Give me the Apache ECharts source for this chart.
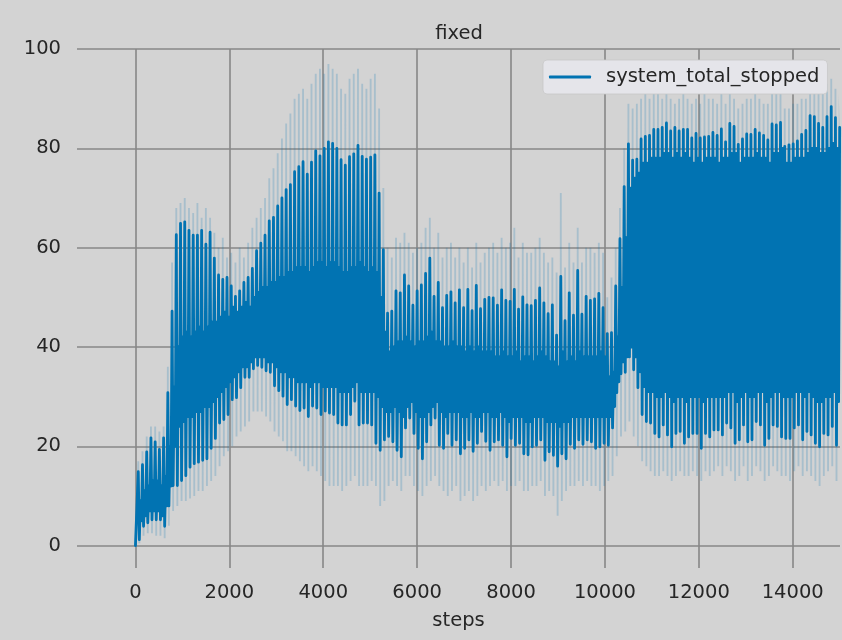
<!DOCTYPE html>
<html>
<head>
<meta charset="utf-8">
<script src="https://cdn.jsdelivr.net/npm/echarts@6/dist/echarts.min.js"></script>
<style>
html,body{margin:0;padding:0;background:#d3d3d3;}
#chart{width:842px;height:640px;}
</style>
</head>
<body>
<div id="chart"></div>
<script>
// ---- data (one value per signal cycle) ----
const seriesName = 'system_total_stopped';
const titleText = 'fixed';
const xAxisName = 'steps';
const xTicks = [0, 2000, 4000, 6000, 8000, 10000, 12000, 14000];
const yTicks = [0, 20, 40, 60, 80, 100];
const startStep = 0;
const startValue = 0;
const firstPeakStep = 60;
const cycleSteps = 90;
const lastStep = 15000;

// main maximum of each cycle
const peaks = [
  14.9,16.3,18.9,21.7,20.9,19.4,21.7,30.8,47.2,62.6,64.9,65.2,63.5,62.5,62.5,63.5,60.7,63.1,57.9,54.5,53.6,54.0,52.3,50.2,51.3,53.0,54.0,
  55.8,59.4,60.9,62.5,65.4,66.1,68.4,70.0,71.7,72.7,75.3,76.3,77.3,74.8,77.2,79.5,78.5,80.0,81.3,81.0,80.0,77.7,76.6,78.3,78.9,80.6,78.4,77.8,
  78.2,78.7,71.0,59.6,46.8,47.2,51.3,50.9,54.5,52.3,48.4,51.3,52.5,54.8,57.9,50.2,53.0,47.9,50.4,51.1,48.9,51.5,47.9,51.6,47.3,52.4,47.7,49.6,
  50.0,49.9,48.4,51.5,49.4,49.2,51.6,47.6,50.1,48.5,48.3,49.4,51.9,48.9,46.7,48.5,42.4,54.2,45.3,50.9,46.4,55.4,46.6,50.2,49.4,49.7,50.8,47.9,
  42.7,42.9,52.3,61.8,72.3,80.9,77.6,77.8,81.9,82.4,82.6,83.8,83.8,84.2,85.1,83.5,84.2,83.5,83.8,83.8,82.1,83.0,82.1,82.3,82.4,83.2,82.6,83.9,
  81.3,85.0,84.4,80.8,81.9,82.9,82.8,83.8,83.1,82.6,81.7,84.9,84.7,85.2,80.4,80.7,80.9,81.5,82.8,83.6,86.6,86.4,85.0,84.2,86.4,88.4,86.2,84.2
];
// main minimum of each cycle
const troughs = [
  1.2,3.9,4.6,5.2,5.2,5.2,3.9,8.0,12.1,12.1,13.1,14.1,15.8,16.5,16.8,17.2,17.5,19.6,21.6,24.7,25.4,26.4,29.4,29.8,31.8,33.9,33.9,
  35.6,36.3,35.9,35.2,34.9,32.2,31.2,30.1,28.4,29.4,28.1,27.2,27.7,26.0,28.1,27.7,26.4,27.1,26.7,26.4,24.7,24.3,24.3,26.4,29.1,24.3,24.7,24.7,
  24.3,20.6,19.2,21.3,22.0,20.9,19.2,17.9,23.7,25.7,22.6,19.6,17.5,20.9,24.3,25.7,20.2,19.6,22.6,20.2,21.3,18.5,19.6,21.3,19.0,20.6,23.0,21.0,
  19.2,20.9,21.3,20.2,17.9,21.6,20.2,20.6,18.5,18.3,19.9,20.2,21.3,17.2,18.9,18.2,16.0,18.5,17.5,20.4,19.6,21.3,20.4,21.3,20.9,19.6,19.9,20.6,
  20.2,23.7,30.8,34.6,34.9,38.0,35.4,31.8,26.4,25.0,24.7,22.6,21.9,24.3,22.3,19.9,22.6,23.0,20.6,21.9,22.6,22.6,19.6,22.6,21.9,23.3,23.3,22.3,
  24.7,23.7,20.6,21.3,24.3,20.9,21.3,25.0,24.3,20.2,21.6,24.3,24.0,21.9,21.6,21.6,23.7,24.3,21.3,23.0,22.3,20.6,19.9,22.6,22.3,24.0,20.2,22.0
];
// secondary (second phase) maximum of each cycle
const humps = [
  9,11,12,13,13,12,14,20,32,40,42,43,42,43,44,43,44,45,45,46,47,46,48,47,48,49,48,
  50,51,52,52,53,53,54,54,55,55,56,56,56,55,56,57,57,56,57,57,56,55,55,56,56,57,56,55,
  56,55,50,43,39,40,41,41,42,41,40,41,41,42,43,41,41,40,40,41,40,40,39,40,39,40,39,39,
  39,38,38,39,38,38,39,37,38,38,37,38,39,38,37,37,36,39,37,38,37,39,38,38,38,38,39,38,
  34,35,42,52,62,72,74,75,77,77,78,78,78,79,79,78,79,78,79,78,77,78,77,78,78,78,77,78,
  78,79,79,77,78,78,78,79,78,78,77,79,79,80,77,77,78,78,78,79,80,80,79,79,80,81,80,79
];
// secondary minimum of each cycle
const dips = [
  5,6,7,7,7,6,8,12,20,24,25,26,26,27,27,28,28,29,30,31,32,33,34,35,36,36,37,
  38,38,38,37,37,36,35,35,34,34,33,33,33,32,33,33,32,32,32,32,31,31,31,32,33,31,31,31,
  31,30,28,27,27,28,27,26,28,29,27,26,26,27,28,29,27,26,27,27,27,26,26,27,26,26,27,27,
  26,26,27,26,25,26,26,26,25,25,26,26,26,25,25,25,24,25,25,26,26,26,26,26,26,26,26,26,
  26,28,33,37,38,40,38,35,32,31,31,30,30,31,30,29,30,30,29,30,30,30,29,30,30,30,30,30,
  31,31,29,30,31,30,30,31,31,29,30,31,31,30,30,30,31,31,30,31,30,29,29,30,30,31,29,30
];
// confidence band: upper bound at each cycle maximum
const bandHigh = [
  17,19,22,24,24,23,24,36,57,68,69,70,68,67,69,66,68,66,63,60,62,58,59,57,60,58,61,
  64,66,68,70,74,76,79,82,85,87,90,91,92,90,93,95,96,95,97,96,95,92,91,94,95,96,93,92,
  94,95,88,72,60,58,62,61,63,61,59,60,61,64,66,60,63,58,60,61,58,60,57,60,56,61,57,59,
  60,61,59,62,60,61,64,58,61,59,59,60,62,59,57,58,55,71,56,61,57,64,57,60,60,59,61,59,
  50,54,60,68,80,89,88,89,90,91,90,91,92,90,91,90,89,90,91,90,89,90,89,91,90,90,89,91,
  89,91,90,88,89,90,90,91,90,89,89,91,91,92,88,88,89,89,90,90,93,92,91,91,93,94,92,91
];
// confidence band: lower bound at each cycle minimum
const bandLow = [
  0.5,2,2.5,2.5,2,2,1.5,4,7,8,9,9,9.5,10,11,11,12,13,14,16,18,19,20,22,23,24,25,
  27,27,27,26,25,23,22,21,19,19,18,17,16,15,16,15,14,13,12,12,12,11,12,13,14,12,12,12,
  13,12,8,9,12,13,12,11,14,14,12,11,10,12,13,14,12,11,10,11,12,9,10,11,9,10,12,11,
  12,13,12,13,11,12,12,13,11,11,12,12,13,10,11,10,6,9,11,12,12,13,12,13,12,12,11,12,
  13,14,18,22,23,25,22,20,17,16,15,14,14,15,14,13,14,15,14,14,15,14,13,15,14,15,16,14,
  16,15,13,14,16,13,14,16,15,13,14,16,15,14,14,13,15,16,14,15,14,13,12,14,15,16,13,15
];

// ---- build series data ----
const q = cycleSteps / 4;
const w = 20; // half width (in steps) of the band spike around an extreme
const lineData = [[startStep, startValue]];
const upperData = [[startStep, startValue]];
const lowerData = [[startStep, startValue]];
function push(arr, step, v) { if (step <= lastStep) arr.push([step, v]); }
for (let i = 0; i < peaks.length; i++) {
  const ps = firstPeakStep + i * cycleSteps;
  push(lineData, ps, peaks[i]);
  push(lineData, ps + q, troughs[i]);
  push(lineData, ps + 2 * q, humps[i]);
  push(lineData, ps + 3 * q, dips[i]);

  push(upperData, ps - w, bandHigh[i]);
  push(upperData, ps + w, bandHigh[i]);
  push(upperData, ps + q, troughs[i]);
  push(upperData, ps + 2 * q, humps[i]);
  push(upperData, ps + 3 * q, dips[i]);

  push(lowerData, ps, peaks[i]);
  push(lowerData, ps + q - w, bandLow[i]);
  push(lowerData, ps + q + w, bandLow[i]);
  push(lowerData, ps + 2 * q, humps[i]);
  push(lowerData, ps + 3 * q, dips[i]);
}

const FONT = 'DejaVu Sans';
const TXT = '#262626';
const BLUE = '#0173b2';

const chart = echarts.init(document.getElementById('chart'), null, {renderer: 'canvas'});
chart.setOption({
  animation: false,
  backgroundColor: '#d3d3d3',
  textStyle: {fontFamily: FONT},
  title: {
    text: titleText,
    left: 454,
    top: 19,
    textAlign: 'center',
    textStyle: {fontFamily: FONT, fontSize: 19.5, fontWeight: 'normal', color: TXT}
  },
  legend: {
    data: [{name: seriesName, icon: 'roundRect'}],
    left: 543,
    top: 60,
    itemWidth: 42,
    itemHeight: 3,
    padding: [5, 8, 5, 6],
    backgroundColor: '#e5e5ea',
    borderColor: 'rgba(200,200,200,0.8)',
    borderWidth: 1,
    borderRadius: 4,
    textStyle: {fontFamily: FONT, fontSize: 19.5, color: TXT, lineHeight: 24, padding: [0, 0, 0, 10]}
  },
  grid: {left: 77, right: 2, top: 49, bottom: 72, containLabel: false},
  xAxis: {
    type: 'value',
    min: -1245,
    max: 15007,
    name: xAxisName,
    nameLocation: 'middle',
    nameGap: 43,
    nameTextStyle: {fontFamily: FONT, fontSize: 19.5, color: TXT},
    axisLine: {show: false},
    axisTick: {show: false, customValues: xTicks},
    axisLabel: {customValues: xTicks, formatter: v => String(v), fontFamily: FONT, fontSize: 19.5, color: TXT, margin: 15},
    splitLine: {show: true, lineStyle: {color: '#878787', width: 1.6}}
  },
  yAxis: {
    type: 'value',
    min: -4.5,
    max: 100,
    axisLine: {show: false},
    axisTick: {show: false, customValues: yTicks},
    axisLabel: {customValues: yTicks, formatter: v => String(v), fontFamily: FONT, fontSize: 19.5, color: TXT, margin: 16},
    splitLine: {show: true, lineStyle: {color: '#878787', width: 1.6}}
  },
  series: [
    {
      name: 'ci_band', type: 'custom', silent: true, z: 1,
      data: [0],
      renderItem: function (params, api) {
        const pts = upperData.map(p => api.coord(p))
          .concat(lowerData.slice().reverse().map(p => api.coord(p)));
        return {type: 'polygon', shape: {points: pts}, style: {fill: 'rgba(1,115,178,0.2)', stroke: null}};
      }
    },
    {
      name: seriesName, type: 'line', data: lineData, z: 2,
      symbol: 'none', silent: true, color: BLUE,
      lineStyle: {color: BLUE, width: 2.8, join: 'round', cap: 'round'}
    }
  ]
});
</script>
</body>
</html>
